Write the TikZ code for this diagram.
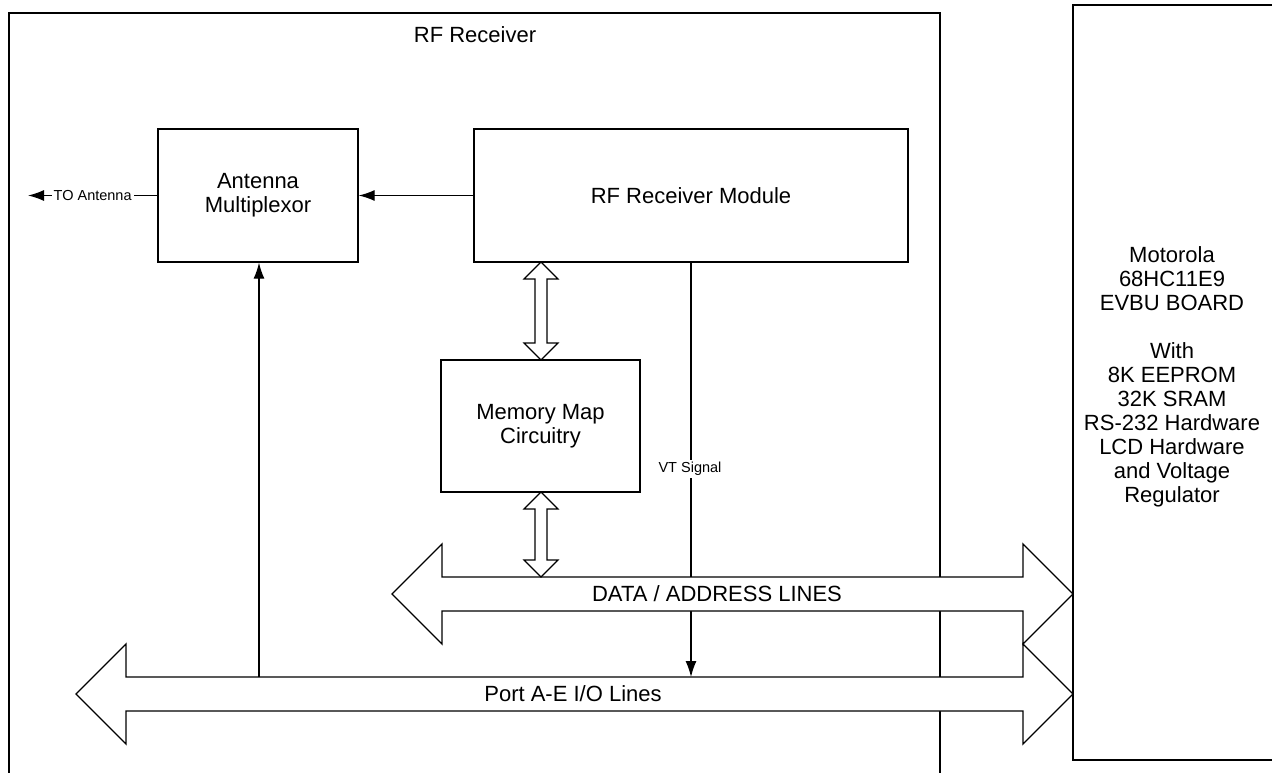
\documentclass[tikz,border=0pt]{standalone}
\usepackage{fontspec}
\setmainfont{Liberation Sans}
\usetikzlibrary{arrows.meta}
\begin{document}
\begin{tikzpicture}[x=1pt,y=-1pt,line width=1.3pt,
  big/.style={font=\fontsize{22}{24}\selectfont},
  small/.style={font=\fontsize{14.5}{16}\selectfont},
  block/.style={draw,fill=white,big,align=center,inner sep=0pt},
  bus/.style={draw,fill=white,line join=miter},
  hollow/.style={draw,fill=white,line width=1.1pt,line join=miter},
  sig/.style={-{Latex[length=16pt,width=11pt]}}]
\useasboundingbox (0,0) rectangle (1272,773);
\clip (0,0) rectangle (1272,773);

% enclosing RF receiver frame (open at the bottom edge)
\draw (9,790) -- (9,13) -- (940,13) -- (940,790);
\node[big] (title) at (475,35) {RF Receiver};

% functional blocks
\node[block,minimum width=200,minimum height=133] (mux) at (258,195.5) {Antenna\\Multiplexor};
\node[block,minimum width=434,minimum height=133] (rfm) at (691,195.5) {RF Receiver Module};
\node[block,minimum width=199,minimum height=132] (mem) at (540.5,426) {Memory Map\\Circuitry};

% board on the right
\node[draw,minimum width=217,minimum height=755,inner sep=0pt] (board) at (1181.5,382.5) {};
\node[big,align=center] (boardtxt) at (1172,377)
  {Motorola\\68HC11E9\\EVBU BOARD\\[24pt]With\\8K EEPROM\\32K SRAM\\RS-232 Hardware\\LCD Hardware\\and Voltage\\Regulator};

% signal lines
\coordinate (ant) at (28,195.5);
\coordinate (portA) at (259,677);
\coordinate (vtEnd) at (691,677);
\draw[sig] (rfm.west) -- (mux.east);
\draw[sig] (mux.west) -- node[small,fill=white,inner sep=2pt] (toant) {TO Antenna} (ant);
\draw[sig] (portA) -- (portA |- mux.south);
\draw[sig] (rfm.south) -- (vtEnd);
\node[small,fill=white,inner sep=2pt] (vt) at (690,469) {VT Signal};

% data / address bus
\draw[bus] (392,594) -- (442,544) -- (442,577) -- (1023,577) -- (1023,544) -- (1073,594)
  -- (1023,644) -- (1023,611) -- (442,611) -- (442,644) -- cycle;
\node[big] (dabus) at (717,594) {DATA / ADDRESS LINES};

% port A-E bus
\draw[bus] (76,694) -- (126,644) -- (126,677) -- (1023,677) -- (1023,644) -- (1073,694)
  -- (1023,744) -- (1023,711) -- (126,711) -- (126,744) -- cycle;
\node[big] (portbus) at (573,694) {Port A-E I/O Lines};

% bidirectional links of the memory map circuitry
\draw[hollow] (541,262) -- (558,279) -- (547,279) -- (547,343) -- (558,343) -- (541,360)
  -- (524,343) -- (535,343) -- (535,279) -- (524,279) -- cycle;
\draw[hollow] (541,492) -- (558,509) -- (547,509) -- (547,560) -- (558,560) -- (541,577)
  -- (524,560) -- (535,560) -- (535,509) -- (524,509) -- cycle;
\end{tikzpicture}
\end{document}
